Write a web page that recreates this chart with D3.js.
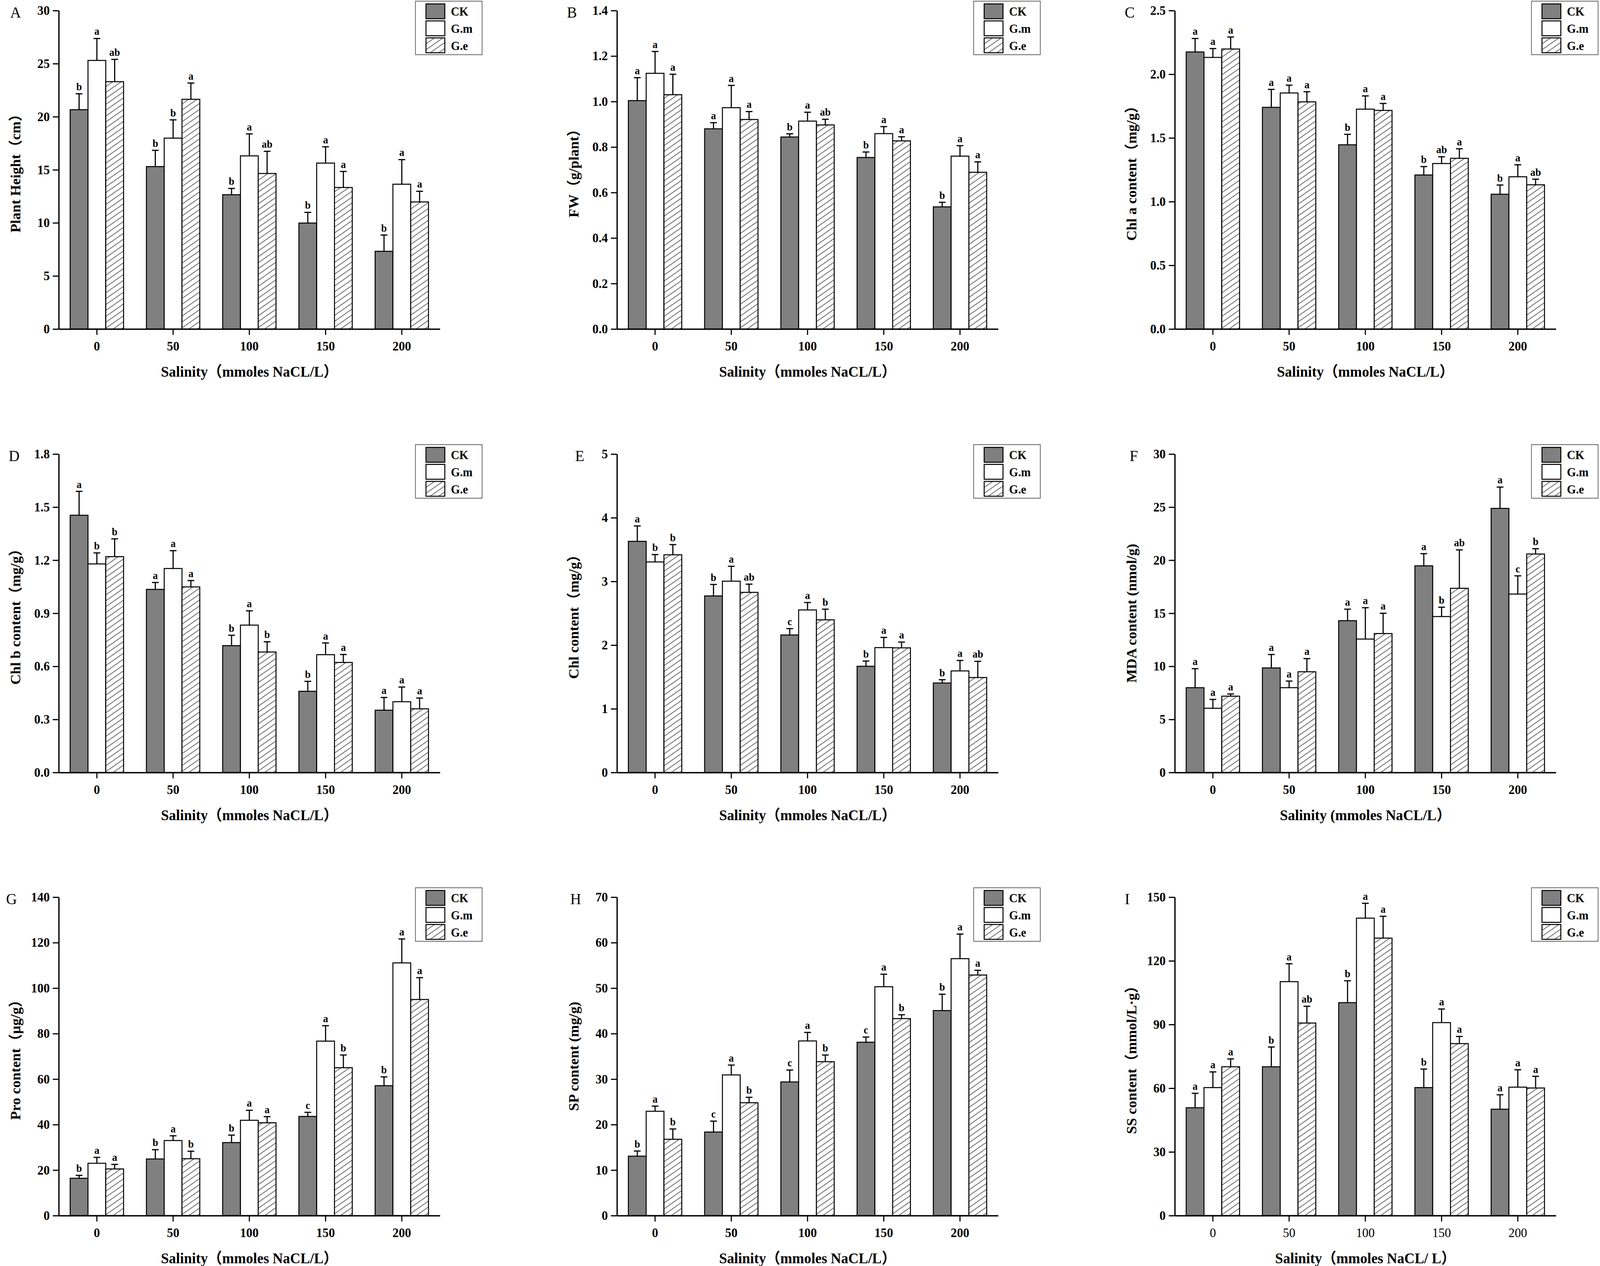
<!DOCTYPE html>
<html lang="en">

<head>
    <meta charset="UTF-8">
    <title>Salinity panels</title>
    <style>
        html, body { margin: 0; padding: 0; background: #fff; overflow: hidden; }
        svg { display: block; width: 100vw; height: 100vh; }
        svg text { font-family: "Times New Roman", "Liberation Serif", "Noto Sans CJK SC", serif; fill: #000; }
    </style>
</head>

<body>
    <script src="https://d3js.org/d3.v7.min.js"></script>
    <script>
        // categories
        var salinity = ['0', '50', '100', '150', '200'];
        var groups = ['CK', 'G.m', 'G.e'];

        // A  plant height   rows: CK, G.m, G.e
        var heightMean = [[20.66, 15.30, 12.65, 9.98, 7.32], [25.30, 17.98, 16.31, 15.63, 13.64], [23.30, 21.64, 14.65, 13.33, 11.97]];
        var heightSd = [[1.50, 1.53, 0.59, 1.01, 1.53], [2.07, 1.72, 2.07, 1.53, 2.32], [2.10, 1.53, 2.09, 1.51, 1.01]];
        var heightSig = [['b', 'b', 'b', 'b', 'b'], ['a', 'b', 'a', 'a', 'a'], ['ab', 'a', 'ab', 'a', 'a']];
        var heightTicks = [0, 5, 10, 15, 20, 25, 30];

        // B  fresh weight
        var fwMean = [[1.004, 0.880, 0.844, 0.754, 0.537], [1.124, 0.973, 0.914, 0.859, 0.760], [1.030, 0.921, 0.897, 0.827, 0.689]];
        var fwSd = [[0.101, 0.027, 0.014, 0.024, 0.020], [0.096, 0.098, 0.039, 0.031, 0.046], [0.090, 0.035, 0.025, 0.018, 0.046]];
        var fwSig = [['a', 'a', 'b', 'b', 'b'], ['a', 'a', 'a', 'a', 'a'], ['a', 'a', 'ab', 'a', 'a']];
        var fwTicks = [0, 0.2, 0.4, 0.6, 0.8, 1.0, 1.2, 1.4];

        // C  chl a
        var chlaMean = [[2.175, 1.740, 1.446, 1.209, 1.058], [2.132, 1.853, 1.726, 1.299, 1.195], [2.198, 1.783, 1.716, 1.340, 1.132]];
        var chlaSd = [[0.106, 0.141, 0.082, 0.066, 0.072], [0.070, 0.061, 0.104, 0.053, 0.094], [0.094, 0.080, 0.055, 0.075, 0.044]];
        var chlaSig = [['a', 'a', 'b', 'b', 'b'], ['a', 'a', 'a', 'ab', 'a'], ['a', 'a', 'a', 'a', 'ab']];
        var chlaTicks = [0, 0.5, 1.0, 1.5, 2.0, 2.5];

        // D  chl b
        var chlbMean = [[1.454, 1.035, 0.717, 0.459, 0.352], [1.179, 1.153, 0.833, 0.666, 0.400], [1.220, 1.049, 0.681, 0.622, 0.360]];
        var chlbSd = [[0.135, 0.039, 0.059, 0.056, 0.072], [0.062, 0.101, 0.081, 0.066, 0.083], [0.101, 0.036, 0.058, 0.045, 0.061]];
        var chlbSig = [['a', 'a', 'b', 'b', 'a'], ['b', 'a', 'a', 'a', 'a'], ['b', 'a', 'b', 'a', 'a']];
        var chlbTicks = [0, 0.3, 0.6, 0.9, 1.2, 1.5, 1.8];

        // E  total chl
        var chlMean = [[3.629, 2.772, 2.159, 1.668, 1.405], [3.306, 3.004, 2.552, 1.961, 1.595], [3.418, 2.828, 2.397, 1.957, 1.491]];
        var chlSd = [[0.242, 0.181, 0.100, 0.082, 0.052], [0.116, 0.233, 0.116, 0.160, 0.164], [0.160, 0.129, 0.168, 0.090, 0.255]];
        var chlSig = [['a', 'b', 'c', 'b', 'b'], ['b', 'a', 'a', 'a', 'a'], ['b', 'ab', 'b', 'a', 'ab']];
        var chlTicks = [0, 1, 2, 3, 4, 5];

        // F  MDA
        var mdaMean = [[7.99, 9.85, 14.30, 19.47, 24.88], [6.05, 7.99, 12.57, 14.69, 16.81], [7.19, 9.49, 13.09, 17.35, 20.58]];
        var mdaSd = [[1.79, 1.27, 1.09, 1.14, 2.01], [0.83, 0.62, 2.95, 0.88, 1.71], [0.21, 1.24, 1.91, 3.62, 0.50]];
        var mdaSig = [['a', 'a', 'a', 'a', 'a'], ['a', 'a', 'a', 'b', 'c'], ['a', 'a', 'a', 'ab', 'b']];
        var mdaTicks = [0, 5, 10, 15, 20, 25, 30];

        // G  proline
        var proMean = [[16.4, 24.9, 32.1, 43.6, 57.1], [23.0, 33.0, 41.9, 76.7, 111.1], [20.5, 25.0, 40.8, 65.0, 95.0]];
        var proSd = [[1.3, 4.1, 3.3, 1.8, 3.9], [2.6, 2.1, 4.4, 6.8, 10.5], [2.0, 3.3, 2.7, 5.6, 9.6]];
        var proSig = [['b', 'b', 'b', 'c', 'b'], ['a', 'a', 'a', 'a', 'a'], ['a', 'b', 'a', 'b', 'a']];
        var proTicks = [0, 20, 40, 60, 80, 100, 120, 140];

        // H  soluble protein
        var spMean = [[13.06, 18.37, 29.38, 38.11, 45.07], [22.93, 30.92, 38.39, 50.31, 56.48], [16.77, 24.81, 33.83, 43.30, 52.88]];
        var spSd = [[1.14, 2.40, 2.62, 1.14, 3.59], [1.14, 2.17, 1.88, 2.74, 5.41], [2.28, 1.20, 1.48, 0.85, 1.03]];
        var spSig = [['b', 'c', 'c', 'c', 'b'], ['a', 'a', 'a', 'a', 'a'], ['b', 'b', 'b', 'b', 'a']];
        var spTicks = [0, 10, 20, 30, 40, 50, 60, 70];

        // I  soluble sugar
        var ssMean = [[50.8, 70.1, 100.3, 60.3, 50.1], [60.3, 110.2, 140.1, 90.9, 60.5], [70.1, 90.7, 130.7, 81.0, 60.1]];
        var ssSd = [[6.8, 9.3, 10.3, 8.7, 6.8], [7.4, 8.4, 7.0, 6.4, 8.2], [3.7, 7.9, 10.3, 3.4, 5.5]];
        var ssSig = [['a', 'b', 'b', 'b', 'a'], ['a', 'a', 'a', 'a', 'a'], ['a', 'ab', 'a', 'a', 'a']];
        var ssTicks = [0, 30, 60, 90, 120, 150];

        // 画布  (viewBox keeps the whole figure inside the window)
        var width = 4248, height = 3240;
        var colX = [156, 1638, 3119];   // y axis position of each column
        var rowY = [27, 1162, 2296];    // top of each plot row
        var plotW = 1012, plotH = 815;

        var svg = d3.select('body').append('svg')
            .attr('viewBox', '0 0 ' + width + ' ' + height)
            .attr('preserveAspectRatio', 'none');
        svg.append('rect').attr('width', width).attr('height', height).attr('fill', '#fff');

        // 斜线填充
        var defs = svg.append('defs');
        var pat = defs.append('pattern').attr('id', 'hatch').attr('patternUnits', 'userSpaceOnUse')
            .attr('width', 12.5).attr('height', 12.5).attr('patternTransform', 'rotate(56)');
        pat.append('rect').attr('width', 12.5).attr('height', 12.5).attr('fill', '#fff');
        pat.append('line').attr('x1', 6.25).attr('y1', 0).attr('x2', 6.25).attr('y2', 12.5)
            .attr('stroke', '#333').attr('stroke-width', 1.5);

        var fills = ['#808080', '#ffffff', 'url(#hatch)'];

        var panels = [
            { id: 'A', col: 0, row: 0, mean: heightMean, sd: heightSd, sig: heightSig, ticks: heightTicks, fmt: 'd', ylab: 'Plant Height（cm）', xlab: 'Salinity（mmoles NaCL/L）', ldx: -129 },
            { id: 'B', col: 1, row: 0, mean: fwMean, sd: fwSd, sig: fwSig, ticks: fwTicks, fmt: '.1f', ylab: 'FW（g/plant）', xlab: 'Salinity（mmoles NaCL/L）', ldx: -133 },
            { id: 'C', col: 2, row: 0, mean: chlaMean, sd: chlaSd, sig: chlaSig, ticks: chlaTicks, fmt: '.1f', ylab: 'Chl a content（mg/g）', xlab: 'Salinity（mmoles NaCL/L）', ldx: -133 },
            { id: 'D', col: 0, row: 1, mean: chlbMean, sd: chlbSd, sig: chlbSig, ticks: chlbTicks, fmt: '.1f', ylab: 'Chl b content（mg/g）', xlab: 'Salinity（mmoles NaCL/L）', ldx: -133 },
            { id: 'E', col: 1, row: 1, mean: chlMean, sd: chlSd, sig: chlSig, ticks: chlTicks, fmt: 'd', ylab: 'Chl content（mg/g）', xlab: 'Salinity（mmoles NaCL/L）', ldx: -111 },
            { id: 'F', col: 2, row: 1, mean: mdaMean, sd: mdaSd, sig: mdaSig, ticks: mdaTicks, fmt: 'd', ylab: 'MDA content (nmol/g)', xlab: 'Salinity (mmoles NaCL/L）', ldx: -120 },
            { id: 'G', col: 0, row: 2, mean: proMean, sd: proSd, sig: proSig, ticks: proTicks, fmt: 'd', ylab: 'Pro content（μg/g）', xlab: 'Salinity（mmoles NaCL/L）', ldx: -140 },
            { id: 'H', col: 1, row: 2, mean: spMean, sd: spSd, sig: spSig, ticks: spTicks, fmt: 'd', ylab: 'SP content (mg/g)', xlab: 'Salinity（mmoles NaCL/L）', ldx: -124 },
            { id: 'I', col: 2, row: 2, mean: ssMean, sd: ssSd, sig: ssSig, ticks: ssTicks, fmt: 'd', ylab: 'SS content（mmol/L·g）', xlab: 'Salinity（mmoles NaCL/ L）', ldx: -133, xThin: true }
        ];

        panels.forEach(drawPanel);

        function drawPanel(p) {
            var g = svg.append('g').attr('transform', 'translate(' + colX[p.col] + ',' + rowY[p.row] + ')');

            var y = d3.scaleLinear().domain([0, d3.max(p.ticks)]).range([plotH, 0]);
            var x0 = d3.scaleBand().domain(salinity).range([0, plotW]).paddingInner(0.3).paddingOuter(0.15);
            var x1 = d3.scaleBand().domain(groups).range([0, x0.bandwidth()]);

            var rows = [];
            salinity.forEach(function (s, i) {
                groups.forEach(function (gr, j) {
                    rows.push({ s: s, g: gr, j: j, v: p.mean[j][i], e: p.sd[j][i], t: p.sig[j][i] });
                });
            });
            var cx = function (d) { return x0(d.s) + x1(d.g) + x1.bandwidth() / 2; };

            // bars
            g.selectAll('rect.bar').data(rows).enter().append('rect')
                .attr('class', 'bar')
                .attr('x', function (d) { return x0(d.s) + x1(d.g); })
                .attr('y', function (d) { return y(d.v); })
                .attr('width', x1.bandwidth())
                .attr('height', function (d) { return plotH - y(d.v); })
                .attr('fill', function (d) { return fills[d.j]; })
                .attr('stroke', '#000').attr('stroke-width', 2.6);

            // error bars (upper only)
            g.selectAll('path.err').data(rows).enter().append('path')
                .attr('class', 'err')
                .attr('d', function (d) {
                    var top = y(d.v + d.e), c = cx(d);
                    return 'M' + c + ',' + y(d.v) + 'V' + top + 'M' + (c - 9) + ',' + top + 'H' + (c + 9);
                })
                .attr('fill', 'none').attr('stroke', '#000').attr('stroke-width', 3);

            // significance letters
            g.selectAll('text.sig').data(rows).enter().append('text')
                .attr('class', 'sig')
                .attr('x', cx)
                .attr('y', function (d) { return y(d.v + d.e) - 9; })
                .attr('text-anchor', 'middle')
                .attr('font-size', 27).attr('font-weight', 'bold')
                .text(function (d) { return d.t; });

            // axes
            var yAxis = d3.axisLeft(y).tickValues(p.ticks).tickFormat(d3.format(p.fmt))
                .tickSize(16).tickSizeOuter(0).tickPadding(8);
            var xAxis = d3.axisBottom(x0).tickSize(15).tickSizeOuter(0).tickPadding(17);

            var ya = g.append('g').call(yAxis);
            var xa = g.append('g').attr('transform', 'translate(0,' + plotH + ')').call(xAxis);
            [ya, xa].forEach(function (a) {
                a.select('.domain').attr('stroke', '#000').attr('stroke-width', 3.5);
                a.selectAll('.tick line').attr('stroke', '#000').attr('stroke-width', 3);
                a.selectAll('.tick text').attr('font-size', 33).attr('font-weight', 'bold')
                    .attr('font-family', '"Times New Roman", "Liberation Serif", serif').attr('fill', '#000');
            });
            if (p.xThin) xa.selectAll('.tick text').attr('font-weight', 'normal');

            // titles
            g.append('text')
                .attr('transform', 'translate(-102,' + plotH / 2 + ') rotate(-90)')
                .attr('text-anchor', 'middle')
                .attr('font-size', 37).attr('font-weight', 'bold')
                .text(p.ylab);
            g.append('text')
                .attr('x', plotW / 2).attr('y', plotH + 122)
                .attr('text-anchor', 'middle')
                .attr('font-size', 38).attr('font-weight', 'bold')
                .text(p.xlab);

            // panel letter
            g.append('text').attr('x', p.ldx).attr('y', 18)
                .attr('font-size', 40)
                .text(p.id);

            // legend
            var lg = g.append('g').attr('transform', 'translate(947,-24)');
            lg.append('rect').attr('width', 177).attr('height', 137)
                .attr('fill', '#fff').attr('stroke', '#333').attr('stroke-width', 1.5);
            groups.forEach(function (name, j) {
                lg.append('rect').attr('x', 28).attr('y', 7 + j * 43.5).attr('width', 50).attr('height', 38)
                    .attr('fill', fills[j]).attr('stroke', '#000').attr('stroke-width', 2.6);
                lg.append('text').attr('x', 94).attr('y', 37 + j * 44)
                    .attr('font-size', 31).attr('font-weight', 'bold')
                    .text(name);
            });
        }
    </script>
</body>

</html>
